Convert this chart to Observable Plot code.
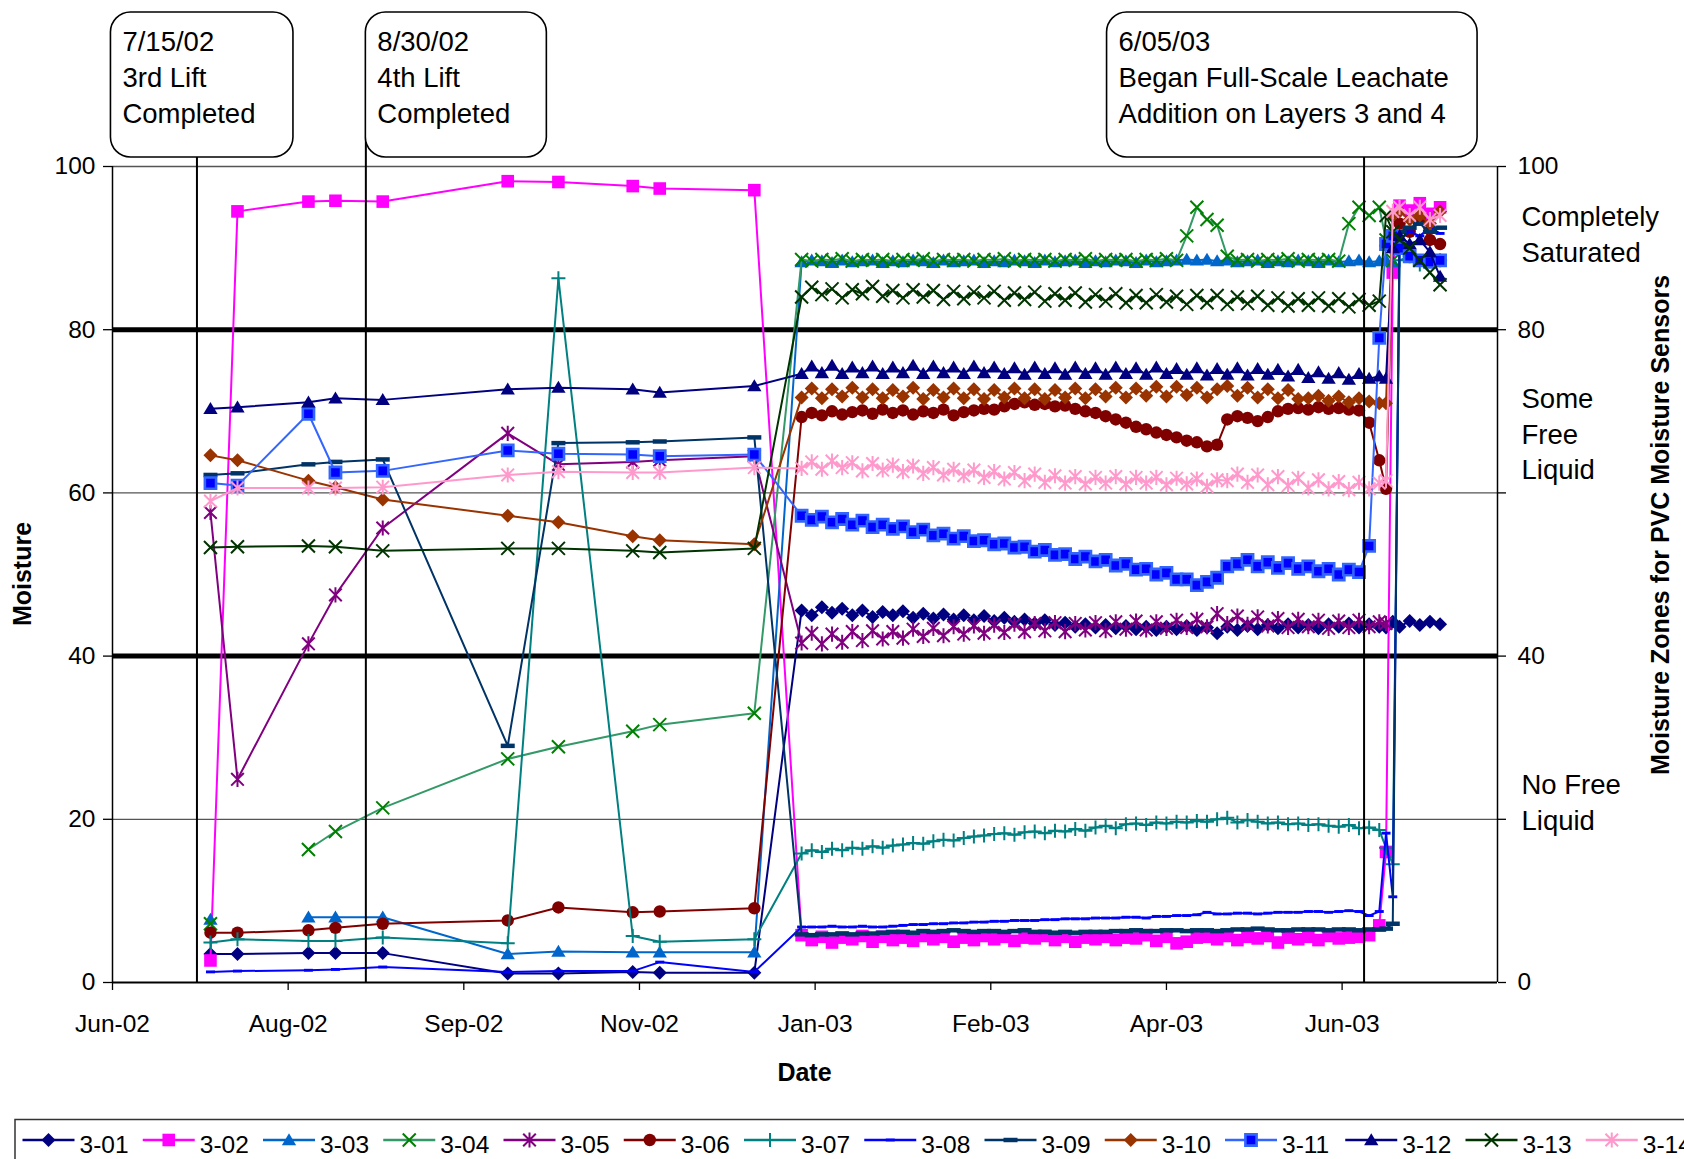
<!DOCTYPE html>
<html><head><meta charset="utf-8">
<script src="https://cdn.jsdelivr.net/npm/d3@7"></script>
<script src="https://cdn.jsdelivr.net/npm/@observablehq/plot@0.6"></script>
<style>
html,body{margin:0;padding:0;background:#fff}
body{width:1684px;height:1159px;overflow:hidden;position:relative;font-family:"Liberation Sans",Arial,sans-serif}
#chart{position:absolute;left:0;top:0}
#legend{position:absolute;left:0;top:1110px}
</style></head><body>
<div id="chart"></div><div id="legend"></div>
<script>
// ---------------- DATA ----------------
const seriesNames = ["3-01","3-02","3-03","3-04","3-05","3-06","3-07","3-08","3-09","3-10","3-11","3-12","3-13","3-14"];
// manual readings (2002)
const earlyDates = ["2002-07-09","2002-07-17","2002-08-07","2002-08-15","2002-08-29","2002-10-05","2002-10-20","2002-11-11","2002-11-19","2002-12-17"];
// automated readings: every 3 days from 2002-12-31 (58 readings)
const denseStart = "2002-12-31";
const denseStepDays = 3;
const denseCount = 58;
// readings after leachate addition
const endDates = ["2003-06-22","2003-06-24","2003-06-26","2003-06-29","2003-07-02","2003-07-05","2003-07-08"];

const v301 = [3.5,3.5,3.6,3.6,3.6,1.1,1.1,1.3,1.2,1.2,
 45.6,45.0,46.0,45.3,45.8,45.0,45.6,44.8,45.4,45.0, 45.5,44.7,45.2,44.6,45.1,44.5,45.0,44.4,44.9,44.3, 44.7,44.2,44.5,44.0,44.4,43.8,44.1,43.6,43.9,43.5, 43.8,43.4,43.7,43.3,43.6,43.2,43.6,43.3,43.7,43.2, 43.5,42.8,43.6,43.2,43.7,43.3,43.8,43.4,43.9,43.5, 43.8,43.4,43.9,43.6,44.0,43.5,43.9,43.6,
 43.5,44.2,43.6,44.3,43.8,44.2,43.9];
const v302 = [2.7,94.5,95.7,95.8,95.7,98.2,98.1,97.6,97.3,97.1,
 5.8,5.2,5.6,4.9,5.5,5.3,5.7,5.0,5.6,5.2, 5.5,5.1,5.7,5.3,5.6,5.0,5.5,5.2,5.7,5.3, 5.6,5.1,5.5,5.4,5.7,5.2,5.6,5.0,5.5,5.3, 5.6,5.2,5.5,5.4,5.8,5.1,5.6,4.8,5.0,5.5, 5.6,5.3,5.7,5.2,5.6,5.4,5.7,4.9,5.5,5.3, 5.6,5.2,5.7,5.4,5.5,5.6,5.8,7.0,
 16.0,87.0,95.2,94.6,95.5,94.2,95.0];
const v303 = [7.7,null,8.0,8.0,8.0,3.5,3.8,3.7,3.7,3.7,
 88.3,88.5,88.4,88.2,88.5,88.3,88.4,88.5,88.2,88.4, 88.3,88.5,88.4,88.2,88.5,88.3,88.4,88.5,88.2,88.4, 88.3,88.5,88.4,88.2,88.5,88.3,88.4,88.5,88.2,88.4, 88.3,88.5,88.4,88.2,88.5,88.3,88.4,88.5,88.6,88.5, 88.6,88.4,88.5,88.3,88.4,88.5,88.2,88.4,88.3,88.5, 88.4,88.2,88.5,88.3,88.4,88.5,88.3,88.4,
 88.5,88.3,null,null,null,null,null];
const v304 = [7.2,null,16.3,18.5,21.4,27.4,28.9,30.8,31.6,33.0,
 88.6,88.4,88.6,88.5,88.7,88.4,88.6,88.5,88.6,88.4, 88.6,88.5,88.7,88.4,88.6,88.5,88.6,88.4,88.6,88.5, 88.7,88.4,88.6,88.5,88.6,88.4,88.6,88.5,88.7,88.4, 88.6,88.5,88.6,88.4,88.6,88.5,88.7,88.5,91.5,95.0, 93.5,92.8,89.0,88.5,88.6,88.4,88.6,88.5,88.7,88.4, 88.6,88.5,88.6,88.4,93.0,95.0,94.0,95.0,
 91.0,88.5,null,null,null,null,null];
const v305 = [57.6,24.9,41.5,47.5,55.7,67.3,63.5,63.8,64.0,64.5,
 41.6,42.8,41.5,42.7,41.7,43.0,41.9,43.1,42.1,43.0, 42.2,43.3,42.4,43.4,42.5,43.6,42.7,43.7,42.8,43.8, 42.9,43.9,43.0,44.0,43.1,44.1,43.0,44.0,43.2,44.1, 43.1,44.2,43.3,44.3,43.2,44.2,43.4,44.4,43.5,44.5, 43.6,45.2,44.0,44.9,43.9,44.8,43.7,44.6,43.5,44.5, 43.6,44.4,43.4,44.3,43.5,44.4,43.6,44.2,
 44.0,null,null,null,null,null,null];
const v306 = [6.1,6.1,6.4,6.7,7.2,7.6,9.2,8.6,8.7,9.1,
 69.3,69.8,69.5,70.0,69.6,69.9,70.1,69.7,70.2,69.8, 70.1,69.6,70.0,69.8,70.2,69.5,69.9,70.1,70.3,70.2, 70.6,70.9,71.1,70.8,70.9,70.6,70.7,70.3,70.0,69.8, 69.4,69.0,68.6,68.1,67.8,67.4,67.1,66.8,66.4,66.2, 65.7,65.9,69.0,69.4,69.2,68.8,69.3,70.0,70.3,70.4, 70.2,70.5,70.3,70.4,70.2,70.1,68.6,64.0,
 60.5,91.0,93.0,92.0,93.5,91.0,90.5];
const v307 = [4.9,5.3,5.1,5.1,5.5,4.8,86.3,5.7,5.0,5.3,
 15.8,16.2,16.0,16.4,16.2,16.5,16.4,16.7,16.5,16.8, 16.9,17.1,17.0,17.3,17.5,17.4,17.7,17.9,18.0,18.2, 18.3,18.1,18.4,18.5,18.3,18.6,18.5,18.8,18.6,19.0, 19.2,18.9,19.4,19.5,19.3,19.6,19.5,19.7,19.6,19.8, 19.7,20.0,20.2,19.6,19.9,19.7,19.5,19.6,19.4,19.5, 19.3,19.4,19.2,19.1,19.3,18.9,19.0,18.7,
 16.5,14.5,88.5,89.0,88.0,89.0,88.5];
const v308 = [1.3,1.4,1.5,1.6,1.9,1.3,1.4,1.4,2.5,1.3,
 6.8,6.8,6.8,6.9,6.8,6.8,6.9,6.8,6.8,6.9, 7.0,7.1,7.1,7.2,7.2,7.3,7.3,7.4,7.4,7.5, 7.5,7.6,7.6,7.6,7.7,7.7,7.8,7.8,7.8,7.9, 7.9,7.9,8.0,8.0,7.9,8.1,8.1,8.2,8.2,8.3, 8.6,8.4,8.4,8.5,8.5,8.4,8.5,8.6,8.6,8.6, 8.7,8.7,8.6,8.7,8.8,8.7,8.2,8.7,
 18.3,10.5,91.0,92.0,91.5,92.5,91.8];
const v309 = [62.2,62.4,63.5,63.8,64.1,29.0,66.1,66.2,66.3,66.8,
 5.9,5.8,5.9,5.9,6.0,5.9,6.0,6.0,6.1,6.2, 6.2,6.1,6.3,6.2,6.3,6.4,6.3,6.2,6.3,6.3, 6.2,6.3,6.4,6.2,6.2,6.1,6.2,6.1,6.2,6.2, 6.2,6.3,6.3,6.4,6.3,6.3,6.4,6.4,6.3,6.4, 6.4,6.3,6.4,6.5,6.5,6.6,6.5,6.4,6.4,6.5, 6.5,6.5,6.4,6.5,6.5,6.4,6.5,6.5,
 6.6,7.2,92.0,92.5,93.0,92.0,92.5];
const v310 = [64.6,64.0,61.5,60.7,59.2,57.2,56.4,54.7,54.2,53.7,
 71.7,72.8,71.6,72.7,71.8,72.9,71.7,72.7,71.6,72.6, 71.8,72.9,71.5,72.6,71.7,72.8,71.6,72.7,71.5,72.6, 71.7,72.8,71.6,72.7,71.5,72.6,71.7,72.8,71.6,72.7, 71.8,72.9,71.7,72.8,71.9,73.0,71.8,73.0,72.0,72.9, 71.7,72.7,73.1,71.9,72.9,71.7,72.7,71.6,72.6,71.5, 71.6,71.9,71.3,71.8,71.1,71.6,71.2,71.0,
 71.0,94.0,94.5,93.5,94.0,93.0,94.5];
const v311 = [61.2,60.9,69.7,62.5,62.7,65.2,64.8,64.7,64.5,64.7,
 57.2,56.7,57.1,56.4,56.8,56.1,56.6,55.8,56.1,55.6, 55.9,55.2,55.5,54.8,55.0,54.4,54.7,54.1,54.2,53.7, 53.8,53.3,53.4,52.8,53.0,52.4,52.5,51.9,52.2,51.6, 51.8,51.1,51.3,50.6,50.7,50.0,50.2,49.4,49.4,48.7, 49.1,49.6,51.0,51.3,51.8,51.0,51.5,50.8,51.4,50.7, 51.0,50.4,50.7,50.0,50.6,50.3,53.5,79.0,
 90.5,91.5,90.0,89.0,88.5,88.3,88.5];
const v312 = [70.3,70.5,71.1,71.6,71.4,72.7,72.9,72.7,72.3,73.1,
 74.6,75.5,74.7,75.6,74.6,75.4,74.7,75.5,74.6,75.4, 74.7,75.6,74.6,75.5,74.7,75.4,74.6,75.5,74.7,75.4, 74.6,75.3,74.5,75.4,74.6,75.3,74.5,75.4,74.6,75.3, 74.5,75.4,74.6,75.3,74.5,75.4,74.6,75.2,74.5,75.3, 74.4,75.2,74.5,75.3,74.4,75.2,74.5,75.1,74.3,75.1, 74.1,74.8,74.0,74.7,73.9,74.6,74.0,74.3,
 74.0,90.0,91.5,90.5,91.0,89.5,86.5];
const v313 = [53.3,53.4,53.5,53.4,52.9,53.2,53.2,52.9,52.7,53.2,
 84.0,85.2,84.3,85.0,83.9,84.9,84.4,85.3,84.1,84.8, 83.9,84.9,84.0,84.8,83.7,84.7,83.8,84.6,83.9,84.7, 83.6,84.5,83.7,84.6,83.5,84.4,83.6,84.5,83.4,84.3, 83.5,84.4,83.3,84.2,83.3,84.3,83.4,84.1,83.1,84.2, 83.3,84.2,83.1,84.0,83.2,84.1,83.0,83.9,82.9,83.8, 83.0,83.9,82.9,83.8,82.8,83.7,83.0,83.5,
 94.0,92.0,91.0,90.0,88.5,87.0,85.5];
const v314 = [59.0,60.6,60.6,60.6,60.7,62.2,62.6,62.5,62.5,63.1,
 63.0,63.8,62.9,63.9,63.1,63.7,62.7,63.6,62.8,63.4, 62.6,63.3,62.4,63.1,62.2,62.9,62.1,62.8,61.9,62.6, 61.7,62.5,61.5,62.3,61.3,62.1,61.2,62.0,61.1,61.9, 61.2,62.0,61.1,61.9,61.2,61.9,61.0,61.8,61.1,61.7, 60.8,61.6,61.5,62.3,61.3,62.2,61.0,62.0,60.9,61.8, 60.6,61.6,60.5,61.4,60.4,61.3,60.5,61.2,
 61.5,94.5,95.0,94.0,95.0,93.5,94.0];
const seriesValues = [v301,v302,v303,v304,v305,v306,v307,v308,v309,v310,v311,v312,v313,v314];

const xDomain = ["2002-06-10","2003-07-25"];
const xTickDates = ["2002-06-10","2002-08-01","2002-09-22","2002-11-13","2003-01-04","2003-02-25","2003-04-18","2003-06-09"];
const yTicks = [0,20,40,60,80,100];
const yRightLabels = [0,40,80,100];
const thinGrid = [20,60,100];
const zoneBounds = [40,80];
const annotDates = ["2002-07-05","2002-08-24","2003-06-15T12:00Z"];
const annotTexts = [["7/15/02","3rd Lift","Completed"],["8/30/02","4th Lift","Completed"],["6/05/03","Began Full-Scale Leachate","Addition on Layers 3 and 4"]];
const zoneLabels = ["Completely\nSaturated","Some\nFree\nLiquid","No Free\nLiquid"];
const zoneCenters = [91.9,67.4,22.3];

// ---------------- STYLE ----------------
const rOf = s => Math.sqrt(s/Math.PI);
const symbols = {
  diamond:{draw(c,s){const r=rOf(s);c.moveTo(0,-r);c.lineTo(r,0);c.lineTo(0,r);c.lineTo(-r,0);c.closePath();}},
  square:{draw(c,s){const r=rOf(s);c.rect(-r,-r,2*r,2*r);}},
  triangle:{draw(c,s){const r=rOf(s);c.moveTo(0,-r*1.05);c.lineTo(r*1.1,r*0.8);c.lineTo(-r*1.1,r*0.8);c.closePath();}},
  circle:{draw(c,s){const r=rOf(s);c.moveTo(r,0);c.arc(0,0,r,0,2*Math.PI);}},
  times:{draw(c,s){const r=rOf(s);c.moveTo(-r,-r);c.lineTo(r,r);c.moveTo(r,-r);c.lineTo(-r,r);}},
  plus:{draw(c,s){const r=rOf(s);c.moveTo(-r,0);c.lineTo(r,0);c.moveTo(0,-r);c.lineTo(0,r);}},
  asterisk:{draw(c,s){const r=rOf(s);c.moveTo(-r,-r);c.lineTo(r,r);c.moveTo(r,-r);c.lineTo(-r,r);c.moveTo(0,-r*1.2);c.lineTo(0,r*1.2);}},
  dash:{draw(c,s){const r=rOf(s);c.rect(-r,-r*0.32,2*r,r*0.64);}}
};
const styles = [
 {line:"#000080",fill:"#000080",sym:"diamond",r:7},
 {line:"#FF00FF",fill:"#FF00FF",sym:"square",r:6.3},
 {line:"#0066CC",fill:"#0066CC",sym:"triangle",r:6.5},
 {line:"#339966",stroke:"#008000",sym:"times",r:6.5},
 {line:"#800080",stroke:"#800080",sym:"asterisk",r:6.3},
 {line:"#800000",fill:"#800000",sym:"circle",r:6.2},
 {line:"#008080",stroke:"#008080",sym:"plus",r:7},
 {line:"#0000FF",fill:"#0000FF",sym:"dash",r:4.5},
 {line:"#003366",fill:"#003366",sym:"dash",r:7},
 {line:"#993300",fill:"#993300",sym:"diamond",r:7},
 {line:"#3366FF",fill:"#0000FF",stroke:"#3366FF",sym:"square",r:5.6,sw:2.6},
 {line:"#000080",fill:"#000080",sym:"triangle",r:6.5},
 {line:"#003300",stroke:"#003300",sym:"times",r:6.5},
 {line:"#FF99CC",stroke:"#FF99CC",sym:"asterisk",r:6.3}
];
const FONT = '"Liberation Sans", Arial, Helvetica, sans-serif';

// ---------------- BUILD ----------------
const denseDates = d3.range(denseCount).map(k => d3.utcDay.offset(new Date(denseStart), k*denseStepDays));
const allDates = [...earlyDates.map(s=>new Date(s)), ...denseDates, ...endDates.map(s=>new Date(s))];
const rows = [];
seriesNames.forEach((name,i) => seriesValues[i].forEach((v,j) => rows.push({name, i, date: allDates[j], value: v})));

const marks = [
  Plot.ruleY(thinGrid, {stroke:"#555", strokeWidth:1.3}),
  Plot.ruleY(zoneBounds, {stroke:"#000", strokeWidth:5})
];
seriesNames.forEach((name,i) => {
  const st = styles[i];
  const d = rows.filter(r => r.i === i);
  marks.push(Plot.line(d, {x:"date", y:"value", stroke: st.line, strokeWidth: 2}));
  marks.push(Plot.dot(d, {x:"date", y:"value", symbol: symbols[st.sym], r: st.r,
    fill: st.fill ?? "none", stroke: st.stroke ?? "none", strokeWidth: st.sw ?? 2}));
});
marks.push(
  Plot.ruleX(xDomain.map(s=>new Date(s)), {y1:0, y2:100, stroke:"#000", strokeWidth:1.5}),
  Plot.ruleY([0], {stroke:"#000", strokeWidth:2}),
  Plot.axisY({anchor:"left", ticks:yTicks, tickSize:9, tickPadding:8, label:null, strokeWidth:1.3}),
  Plot.axisY({anchor:"right", ticks:yTicks, tickSize:8, tickPadding:12, label:null, strokeWidth:1.3,
    tickFormat: d => yRightLabels.includes(d) ? String(d) : ""}),
  Plot.axisX({ticks: xTickDates.map(s=>new Date(s)), tickFormat: d3.utcFormat("%b-%y"), tickSize:8, tickPadding:24, label:null, strokeWidth:1.3}),
  Plot.ruleX(annotDates.map(s=>new Date(s)), {y1:0, y2:103.5, stroke:"#000", strokeWidth:2}),
  Plot.text(zoneLabels, {frameAnchor:"right", y:(d,i)=>zoneCenters[i], text:d=>d, dx:24, textAnchor:"start",
    lineAnchor:"middle", lineHeight:1.29, fontSize:27.5, fill:"#000"})
);

const chart = Plot.plot({
  width:1684, height:1110,
  marginLeft:112, marginRight:187, marginTop:166, marginBottom:128,
  x:{type:"utc", domain: xDomain.map(s=>new Date(s))},
  y:{domain:[0,100]},
  style:{fontFamily:FONT, fontSize:"24.5px", color:"#000", background:"#fff", overflow:"visible"},
  marks
});
document.getElementById("chart").append(chart);

// annotations, axis titles
const svg = d3.select(chart);
const xs = chart.scale("x");
const boxLayout = [{dx:-86,w:182.5},{dx:0,w:181},{dx:-257,w:370.5}];
annotDates.forEach((ds,i) => {
  const xl = xs.apply(new Date(ds));
  const b = boxLayout[i];
  const g = svg.append("g").attr("text-anchor","start");
  g.append("rect").attr("x", xl+b.dx).attr("y",12).attr("width",b.w).attr("height",145)
    .attr("rx",20).attr("ry",20).attr("fill","#fff").attr("stroke","#000").attr("stroke-width",1.6);
  annotTexts[i].forEach((t,k) => g.append("text").attr("x", xl+b.dx+12).attr("y", 50.5+36*k)
    .attr("text-anchor","start").attr("font-family",FONT).attr("font-size",27.5).attr("fill","#000").text(t));
});
const title = (txt, x, y, rot) => svg.append("text")
  .attr("transform", `translate(${x},${y})` + (rot ? " rotate(-90)" : ""))
  .attr("text-anchor","middle").attr("dominant-baseline","central")
  .attr("font-family",FONT).attr("font-weight","bold").attr("font-size",25).attr("fill","#000").text(txt);
title("Moisture", 22, 574, true);
title("Date", 804.5, 1072, false);
title("Moisture Zones for PVC Moisture Sensors", 1660, 525, true);

// legend
const lg = d3.select("#legend").append("svg").attr("width",1684).attr("height",49);
lg.append("path").attr("d","M15,49V9.5H1684").attr("fill","none").attr("stroke","#333").attr("stroke-width",1.5);
seriesNames.forEach((name,i) => {
  const st = styles[i], x0 = 22.5 + 120.25*i;
  lg.append("line").attr("x1",x0).attr("x2",x0+52).attr("y1",30).attr("y2",30).attr("stroke",st.line).attr("stroke-width",2.5);
  lg.append("path").attr("transform",`translate(${x0+26},30)`)
    .attr("d", d3.symbol(symbols[st.sym], Math.PI*st.r*st.r)())
    .attr("fill", st.fill ?? "none").attr("stroke", st.stroke ?? "none").attr("stroke-width", st.sw ?? 2);
  lg.append("text").attr("x",x0+57).attr("y",34).attr("dominant-baseline","central").attr("text-anchor","start")
    .attr("font-family",FONT).attr("font-size",24.5).attr("fill","#000").text(name);
});
</script></body></html>
